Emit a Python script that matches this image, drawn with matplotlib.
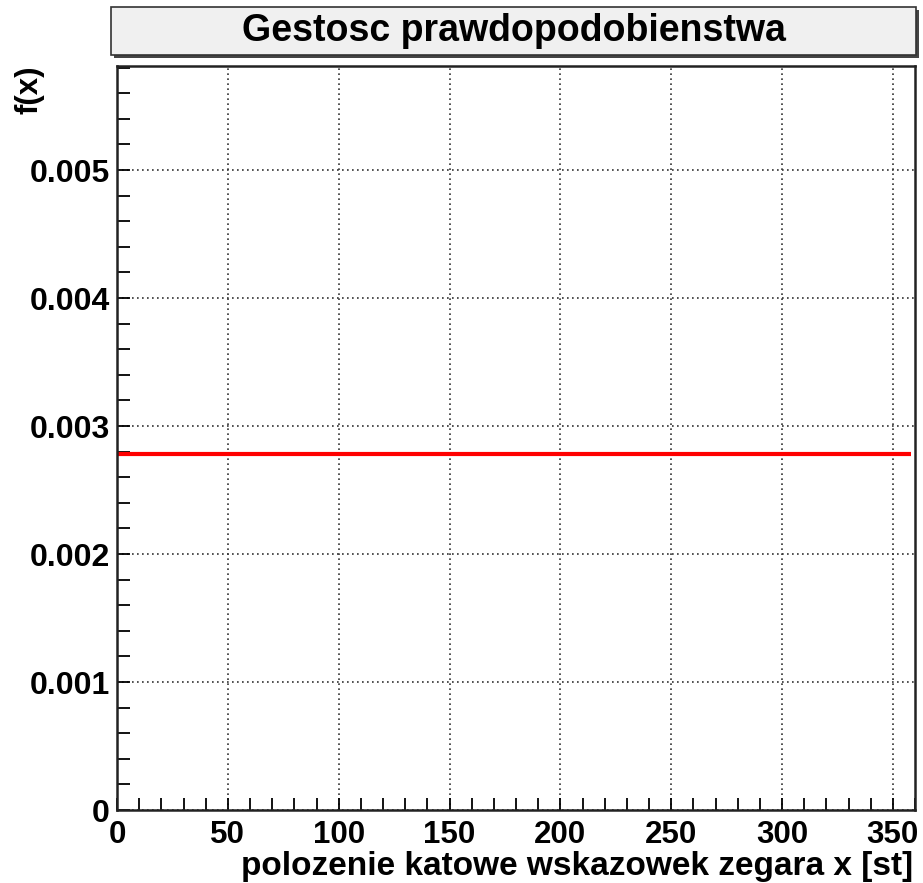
import matplotlib.pyplot as plt
from matplotlib.patches import Rectangle
from matplotlib.ticker import MultipleLocator

# data
x_range = [0, 358]
density = [0.00278, 0.00278]
x_ticks = [0, 50, 100, 150, 200, 250, 300, 350]
y_ticks = [0, 0.001, 0.002, 0.003, 0.004, 0.005]
y_tick_labels = ["0", "0.001", "0.002", "0.003", "0.004", "0.005"]

title = "Gestosc prawdopodobienstwa"
xlabel = "polozenie katowe wskazowek zegara x [st]"
ylabel = "f(x)"

plt.rcParams['font.family'] = ['Liberation Sans', 'DejaVu Sans']
plt.rcParams['font.weight'] = 'bold'

W, H = 923, 883
fig = plt.figure(figsize=(W / 100, H / 100), dpi=100)

# axes placed in pixel coords
left, right, top, bottom = 117, 915, 66, 810
ax = fig.add_axes([left / W, (H - bottom) / H, (right - left) / W, (bottom - top) / H])

ax.plot(x_range, density, color='red', lw=3, solid_capstyle='butt')

ax.set_xlim(0, 360)
ax.set_ylim(0, 0.0058125)
ax.set_xticks(x_ticks)
ax.set_yticks(y_ticks)
ax.set_yticklabels(y_tick_labels)
ax.xaxis.set_minor_locator(MultipleLocator(10))
ax.yaxis.set_minor_locator(MultipleLocator(0.0002))
ax.tick_params(which='both', direction='in', length=9, width=1.3, color='black',
               top=False, right=False)
ax.tick_params(axis='y', pad=5, labelsize=23)
ax.tick_params(axis='x', pad=7, labelsize=22.5)
ax.grid(True, which='major', linestyle=(0, (1, 2)), color='#333333', lw=1.2)

for s in ax.spines.values():
    s.set_linewidth(1.8)
    s.set_color('#222222')

fig.text(right / W - 0.002, 1 - 866 / H, xlabel, ha='right', va='center', fontsize=24, fontweight='bold')
fig.text(30 / W, 1 - 66 / H, ylabel, ha='center', va='top', rotation=90, fontsize=22.5, fontweight='bold')

# title box with shadow, ROOT style
bx0, bx1, by0, by1 = 111, 916, 7, 55
fig.patches.append(Rectangle(((bx0 + 3) / W, 1 - (by1 + 3) / H), (bx1 - bx0) / W, (by1 - by0) / H,
                             transform=fig.transFigure, facecolor='#444444', edgecolor='none', zorder=0))
fig.patches.append(Rectangle((bx0 / W, 1 - by1 / H), (bx1 - bx0) / W, (by1 - by0) / H,
                             transform=fig.transFigure, facecolor='#f0f0f0', edgecolor='#333333',
                             lw=1.2, zorder=1))
fig.text((bx0 + bx1) / 2 / W, 1 - (by0 + by1) / 2 / H, title, ha='center', va='center',
         fontsize=27, fontweight='bold', zorder=2)

fig.savefig('out.png', dpi=100)
